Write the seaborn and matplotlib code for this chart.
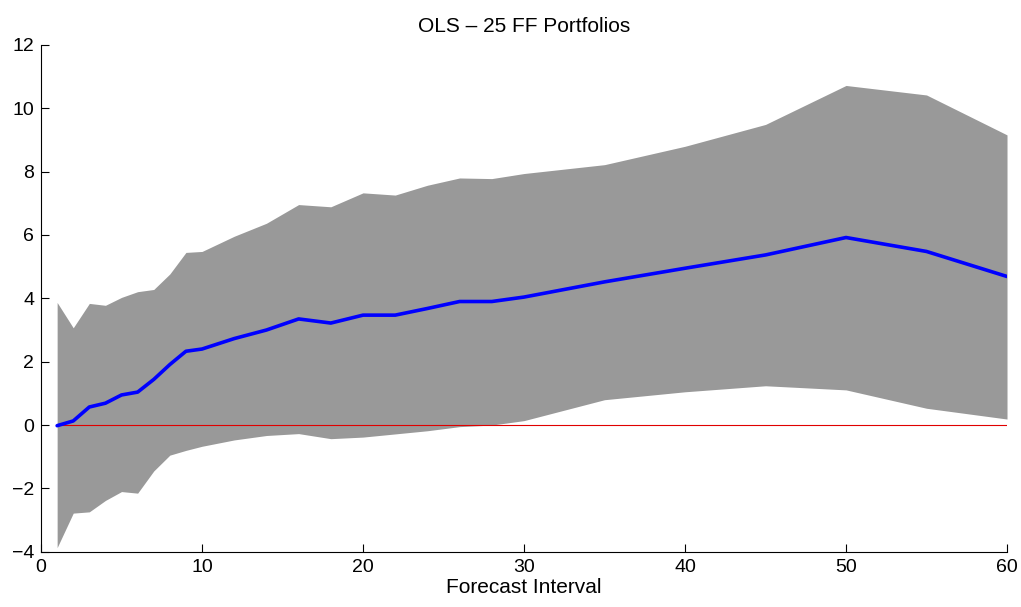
import matplotlib
matplotlib.use("Agg")
import matplotlib.pyplot as plt
import seaborn as sns
import pandas as pd

horizon = [1, 2, 3, 4, 5, 6, 7, 8, 9, 10, 12, 14, 16, 18, 20, 22, 24, 26, 28, 30,
           35, 40, 45, 50, 55, 60]
estimate = [-0.02, 0.13, 0.57, 0.69, 0.95, 1.04, 1.44, 1.91, 2.33, 2.40, 2.73, 3.00,
            3.35, 3.22, 3.47, 3.47, 3.68, 3.90, 3.90, 4.04, 4.52, 4.95, 5.37,
            5.92, 5.48, 4.69]
upper = [3.87, 3.07, 3.84, 3.78, 4.03, 4.21, 4.28, 4.77, 5.45, 5.48, 5.96, 6.37,
         6.96, 6.89, 7.33, 7.26, 7.57, 7.80, 7.78, 7.94, 8.22, 8.80, 9.49,
         10.72, 10.42, 9.16]
lower = [-3.87, -2.78, -2.74, -2.38, -2.10, -2.15, -1.45, -0.95, -0.80, -0.67,
         -0.47, -0.33, -0.27, -0.43, -0.38, -0.28, -0.18, -0.05, 0.0, 0.14,
         0.80, 1.05, 1.24, 1.11, 0.53, 0.19]

df = pd.DataFrame({"h": horizon, "est": estimate, "lo": lower, "hi": upper})

sns.set_style("ticks")
plt.rcParams["font.family"] = ["Liberation Sans", "DejaVu Sans"]
plt.rcParams["text.color"] = "black"
plt.rcParams["axes.labelcolor"] = "black"

fig = plt.figure(figsize=(10.21, 6.07), dpi=100)
ax = fig.add_axes([0.0402, 0.091, 0.9461, 0.835])

ax.fill_between(df["h"], df["lo"], df["hi"], color="#999999", linewidth=0)
ax.plot([horizon[0], horizon[-1]], [0, 0], color="#e00000", linewidth=0.8)
sns.lineplot(data=df, x="h", y="est", color="#0000ff", linewidth=2.6, ax=ax)

ax.set_xlim(0, 60)
ax.set_ylim(-4, 12)
ax.set_xticks([0, 10, 20, 30, 40, 50, 60])
ax.set_yticks([-4, -2, 0, 2, 4, 6, 8, 10, 12])
ax.tick_params(direction="in", length=6, width=0.8, labelsize=14, pad=5,
               colors="black")
ax.set_title("OLS \u2013 25 FF Portfolios", fontsize=15, pad=9, color="black")
ax.set_xlabel("Forecast Interval", fontsize=15, labelpad=1.5, color="black")
ax.set_ylabel("")
sns.despine(ax=ax)
for s in ["left", "bottom"]:
    ax.spines[s].set_linewidth(0.8)
    ax.spines[s].set_color("black")

fig.savefig("out.png", dpi=100)
